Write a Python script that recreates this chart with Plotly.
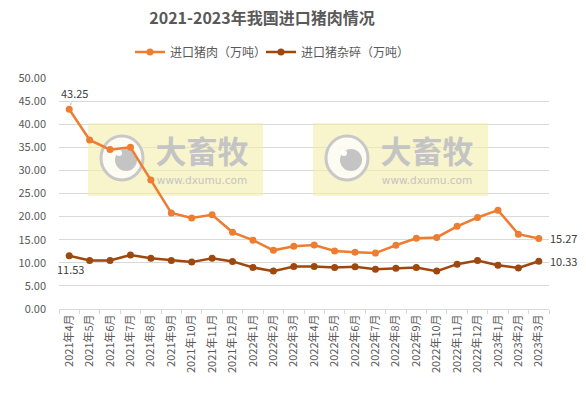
import plotly.graph_objects as go

months = ["2021年4月", "2021年5月", "2021年6月", "2021年7月", "2021年8月", "2021年9月",
          "2021年10月", "2021年11月", "2021年12月", "2022年1月", "2022年2月", "2022年3月",
          "2022年4月", "2022年5月", "2022年6月", "2022年7月", "2022年8月", "2022年9月",
          "2022年10月", "2022年11月", "2022年12月", "2023年1月", "2023年2月", "2023年3月"]
pork = [43.25, 36.6, 34.5, 35.0, 27.9, 20.8, 19.7, 20.4, 16.6, 14.9, 12.7, 13.6,
        13.85, 12.55, 12.3, 12.1, 13.8, 15.3, 15.5, 17.9, 19.8, 21.4, 16.2, 15.27]
offal = [11.53, 10.5, 10.5, 11.7, 11.0, 10.5, 10.15, 11.0, 10.3, 9.0, 8.2, 9.2,
         9.2, 9.0, 9.15, 8.6, 8.8, 9.0, 8.2, 9.7, 10.5, 9.45, 8.9, 10.33]
name_pork = "进口猪肉（万吨）"
name_offal = "进口猪杂碎（万吨）"
title = "2021-2023年我国进口猪肉情况"
wm_name = "大畜牧"
wm_url = "www.dxumu.com"

FONT = "Noto Sans CJK SC"
GRAY = "#595959"
ORANGE = "#ED7D31"
BROWN = "#9E480E"
WM = "#C4C4C4"

L, R, T, B = 59, 37, 78, 86
W, H = 586, 395
PW, PH = W - L - R, H - T - B

fig = go.Figure()

# watermark (on hidden pixel-coordinate axes x/y, drawn beneath the data)
shapes = []
for dx in (0, 225):
    shapes.append(dict(type="rect", xref="x", yref="y", layer="between",
                       x0=88 + dx, x1=263 + dx, y0=196, y1=123,
                       fillcolor="rgba(243,236,168,0.6)", line=dict(width=0)))
    cx, cy = 122 + dx, 158
    shapes.append(dict(type="circle", xref="x", yref="y", layer="between",
                       x0=cx - 21, x1=cx + 21, y0=cy + 22, y1=cy - 22,
                       fillcolor="rgba(255,255,255,0.75)", line=dict(color="#C8C8C8", width=3)))
    shapes.append(dict(type="circle", xref="x", yref="y", layer="between",
                       x0=cx + 4 - 11, x1=cx + 4 + 11, y0=cy + 2 + 11, y1=cy + 2 - 11,
                       fillcolor="#C4C4C4", line=dict(width=0)))
    shapes.append(dict(type="circle", xref="x", yref="y", layer="between",
                       x0=cx - 3 - 3, x1=cx - 3 + 3, y0=cy - 5 + 3, y1=cy - 5 - 3,
                       fillcolor="#FFFFFF", line=dict(width=0)))

fig.add_trace(go.Scatter(x=[202, 427], y=[155, 155], mode="text", text=[wm_name, wm_name],
                         textfont=dict(family=FONT, size=31, color=WM, weight="bold"),
                         xaxis="x", yaxis="y", showlegend=False, hoverinfo="skip"))
fig.add_trace(go.Scatter(x=[202, 427], y=[181, 181], mode="text", text=[wm_url, wm_url],
                         textfont=dict(family="DejaVu Sans", size=10.5, color=WM),
                         xaxis="x", yaxis="y", showlegend=False, hoverinfo="skip"))

# data
fig.add_trace(go.Scatter(x=months, y=pork, name=name_pork, mode="lines+markers",
                         line=dict(color=ORANGE, width=2.5), marker=dict(size=7, color=ORANGE),
                         xaxis="x2", yaxis="y2", legend="legend"))
fig.add_trace(go.Scatter(x=months, y=offal, name=name_offal, mode="lines+markers",
                         line=dict(color=BROWN, width=2.5), marker=dict(size=7, color=BROWN),
                         xaxis="x2", yaxis="y2", legend="legend2"))

lab_font = dict(family=FONT, size=11, color="#404040")
annotations = [
    dict(x=months[0], y=pork[0], xref="x2", yref="y2", text=f"{pork[0]:.2f}", showarrow=True,
         ax=5, ay=-16, arrowhead=0, arrowwidth=0.8, arrowcolor="#A6A6A6", standoff=4, font=lab_font),
    dict(x=months[0], y=offal[0], xref="x2", yref="y2", text=f"{offal[0]:.2f}", showarrow=False,
         yshift=-13, xshift=1, font=lab_font),
    dict(x=months[-1], y=pork[-1], xref="x2", yref="y2", text=f"{pork[-1]:.2f}", showarrow=False,
         xanchor="left", xshift=9, font=lab_font),
    dict(x=months[-1], y=offal[-1], xref="x2", yref="y2", text=f"{offal[-1]:.2f}", showarrow=False,
         xanchor="left", xshift=9, font=lab_font),
]

leg_common = dict(orientation="h", xanchor="left", y=(H - B - 52) / PH, yanchor="middle",
                  font=dict(family=FONT, size=12, color=GRAY), itemwidth=30,
                  bgcolor="rgba(0,0,0,0)")

fig.update_layout(
    width=W, height=H,
    margin=dict(l=L, r=R, t=T, b=B),
    paper_bgcolor="white", plot_bgcolor="white",
    font=dict(family=FONT, size=11, color=GRAY),
    title=dict(text=f"<b>{title}</b>", x=262 / W, xref="container", xanchor="center",
               y=1 - 18 / H, yref="container", yanchor="middle",
               font=dict(family=FONT, size=16, color=GRAY)),
    legend=dict(x=(130 - L) / PW, **leg_common),
    legend2=dict(x=(261 - L) / PW, **leg_common),
    showlegend=True,
    shapes=shapes,
    annotations=annotations,
    xaxis=dict(range=[L, W - R], visible=False, fixedrange=True),
    yaxis=dict(range=[H - B, T], visible=False, fixedrange=True),
    xaxis2=dict(overlaying="x", anchor="y2", side="bottom", type="category",
                range=[-0.5, len(months) - 0.5],
                tickangle=-90, showgrid=False, showline=True, linecolor="#D9D9D9", linewidth=1,
                ticks="outside", tickson="boundaries", ticklen=4, tickcolor="#D9D9D9",
                tickfont=dict(family=FONT, size=11, color=GRAY), fixedrange=True),
    yaxis2=dict(overlaying="y", anchor="x2", side="left",
                range=[0, 50], dtick=5, tickformat=".2f", showgrid=True, gridcolor="#D9D9D9",
                gridwidth=1, zeroline=False, showline=False, ticks="", ticklabelstandoff=12,
                tickfont=dict(family=FONT, size=11, color=GRAY), fixedrange=True),
)

fig.write_html("out.html")
